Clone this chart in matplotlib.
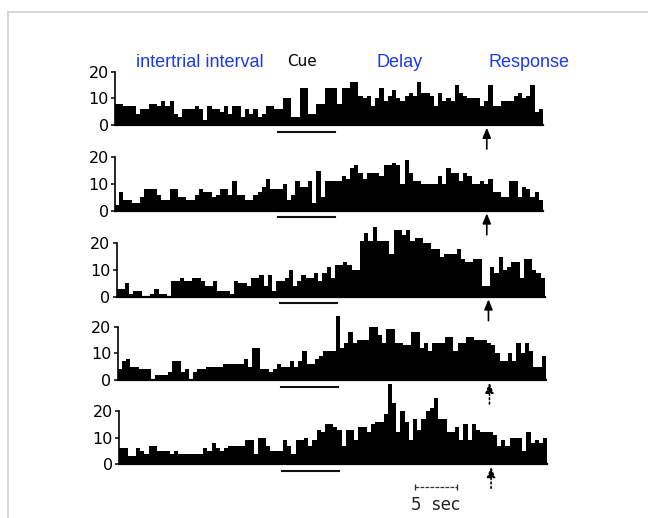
#!/usr/bin/env python3
"""Single-unit histograms across five trial blocks (intertrial / cue / delay / response)."""

import numpy as np
import matplotlib
matplotlib.use("Agg")
import matplotlib.pyplot as plt
from matplotlib.lines import Line2D

W, H = 648, 518
BIN = 0.5  # sec per bin

# spikes per bin (top to bottom)
block1 = [8, 8, 7, 7, 7, 4, 6, 6, 8, 8, 7, 9, 7, 9, 4, 3, 6, 6, 6, 7,
          6, 2, 7, 6, 6, 5, 7, 4, 7, 7, 3, 6, 4, 6, 3, 4, 7, 7, 6, 6,
          10, 10, 3, 3, 14, 14, 4, 4, 8, 8, 14, 14, 14, 8, 14, 14, 16, 16, 11, 10,
          11, 7, 10, 14, 9, 11, 13, 10, 9, 11, 12, 11, 16, 12, 12, 11, 7, 12, 9, 10,
          9, 15, 12, 11, 10, 10, 10, 7, 9, 15, 7, 7, 9, 9, 9, 11, 12, 10, 11, 15,
          5, 6]
block2 = [2, 7, 4, 4, 3, 3, 5, 8, 8, 8, 6, 4, 4, 8, 8, 5, 5, 4, 4, 6,
          8, 7, 7, 5, 6, 8, 8, 6, 11, 6, 6, 4, 4, 6, 7, 9, 12, 8, 8, 8,
          10, 4, 6, 11, 9, 9, 11, 3, 15, 5, 11, 11, 11, 11, 13, 12, 16, 17, 14, 12,
          14, 14, 14, 13, 17, 17, 18, 17, 10, 19, 14, 11, 11, 10, 10, 10, 10, 13, 10, 16,
          14, 14, 11, 14, 13, 10, 10, 11, 10, 12, 7, 7, 5, 5, 11, 11, 5, 9, 8, 5,
          7, 4]
block3 = [3, 3, 5, 1, 2, 2, 0, 0, 1, 3, 1, 1, 0, 6, 6, 7, 6, 6, 7, 7,
          6, 4, 4, 6, 2, 2, 2, 1, 6, 5, 5, 4, 7, 7, 8, 4, 8, 2, 6, 6,
          7, 10, 4, 6, 8, 7, 7, 9, 6, 9, 11, 7, 12, 12, 13, 12, 10, 10, 21, 24,
          21, 26, 21, 21, 21, 16, 25, 25, 23, 25, 21, 22, 22, 20, 20, 18, 18, 15, 16, 16,
          16, 18, 14, 13, 13, 14, 14, 4, 4, 11, 9, 15, 10, 11, 13, 13, 7, 14, 14, 10,
          9, 7]
block4 = [4, 7, 8, 5, 5, 4, 4, 4, 0, 2, 2, 2, 3, 7, 7, 3, 4, 0, 3, 4,
          4, 5, 5, 5, 5, 6, 6, 6, 6, 6, 8, 5, 12, 12, 4, 4, 3, 4, 6, 5,
          5, 7, 5, 7, 11, 6, 6, 8, 9, 11, 11, 11, 24, 12, 14, 18, 14, 15, 15, 15,
          20, 20, 17, 14, 19, 19, 14, 14, 13, 13, 18, 18, 12, 14, 11, 14, 14, 14, 16, 16,
          11, 14, 14, 16, 16, 15, 15, 15, 14, 13, 10, 7, 7, 10, 7, 14, 10, 14, 11, 5,
          5, 9]
block5 = [6, 6, 3, 3, 6, 5, 4, 7, 7, 5, 5, 5, 4, 5, 4, 4, 4, 4, 4, 4,
          6, 5, 8, 6, 5, 6, 7, 7, 7, 7, 9, 9, 4, 10, 10, 7, 5, 5, 5, 9,
          7, 4, 9, 9, 10, 7, 9, 13, 12, 15, 15, 14, 13, 7, 13, 13, 9, 14, 14, 12,
          15, 16, 16, 19, 30, 23, 12, 20, 16, 9, 17, 13, 17, 20, 21, 25, 17, 17, 12, 12,
          14, 9, 15, 9, 15, 13, 12, 12, 12, 11, 7, 9, 7, 10, 10, 10, 5, 12, 8, 9,
          8, 10]

BLOCKS = [block1, block2, block3, block4, block5]
YTICKS = [0, 10, 20]
CUE = (19.4, 26.2)       # sec, cue period underline
RESPONSE_T = 44.3        # sec, response arrow
SCALE_BAR = (35.2, 40.2)  # 5 sec

PHASES = ["intertrial interval", "Cue", "Delay", "Response"]
PHASE_X = [200, 302, 400, 529]
PHASE_COLORS = ["#1c3ae6", "black", "#1c3ae6", "#1c3ae6"]

# layout in pixels (scan is slightly skewed, so each panel has its own origin)
PANEL_LEFT = [115, 115, 116.7, 117.7, 119.3]
PANEL_ZERO = [125, 210.7, 296.7, 380, 464.3]
T_MAX = 51
PX_PER_SEC = 428 / T_MAX
PX_PER_UNIT = 53.3 / 20
Y_MAX = 31


def px(x, y):
    return x / W, 1 - y / H


def main():
    fig = plt.figure(figsize=(W / 100, H / 100), dpi=100)
    fig.patch.set_facecolor("white")

    # slide frame
    fig.add_artist(Line2D([8 / W, 8 / W], [0, 1 - 12 / H], color="#cfcfcf", lw=1.2))
    fig.add_artist(Line2D([8 / W, 1], [1 - 12 / H, 1 - 12 / H], color="#cfcfcf", lw=1.2))

    for i, vals in enumerate(BLOCKS):
        left, zero = PANEL_LEFT[i], PANEL_ZERO[i]
        x0, y0 = px(left, zero)
        ax = fig.add_axes([x0, y0, T_MAX * PX_PER_SEC / W, Y_MAX * PX_PER_UNIT / H])
        ax.patch.set_visible(False)

        edges = np.arange(len(vals) + 1) * BIN
        ax.stairs(vals, edges, fill=True, color="black", baseline=0)

        ax.set_xlim(0, T_MAX)
        ax.set_ylim(0, Y_MAX)
        for s in ("top", "right"):
            ax.spines[s].set_visible(False)
        ax.spines["left"].set_bounds(0, 20)
        ax.spines["left"].set_linewidth(1.2)
        ax.spines["bottom"].set_bounds(0, len(vals) * BIN)
        ax.spines["bottom"].set_linewidth(1.6)
        ax.set_xticks([])
        ax.set_yticks(YTICKS)
        ax.tick_params(axis="y", length=3, width=1.1, pad=1.5, labelsize=11.5)

        # cue underline
        ax.plot(CUE, [-2.5, -2.5], color="#111111", lw=1.5, clip_on=False)
        # response arrow
        ax.annotate("", xy=(RESPONSE_T, -1.0), xytext=(RESPONSE_T, -9.0),
                    arrowprops=dict(arrowstyle="-|>,head_length=0.6,head_width=0.25",
                                    color="black", lw=1.2, shrinkA=0, shrinkB=0,
                                    linestyle="-" if i < 3 else ":"),
                    annotation_clip=False)

        if i == len(BLOCKS) - 1:
            ax.plot(SCALE_BAR, [-8.5, -8.5], color="#333333", lw=0.9,
                    linestyle=(0, (3, 1)), clip_on=False)
            ax.plot(SCALE_BAR, [-8.5, -8.5], color="#333333", lw=0, marker="|",
                    markersize=4, clip_on=False)
            ax.text(np.mean(SCALE_BAR), -15.3, "5  sec", ha="center", va="center",
                    fontsize=12, color="#222222")

    for label, x, c in zip(PHASES, PHASE_X, PHASE_COLORS):
        if label == "Cue":
            fig.text(*px(x, 66), label, ha="center", va="baseline", fontsize=11, color=c)
        else:
            fig.text(*px(x, 67), label, ha="center", va="baseline", fontsize=13,
                     color=c, family="Liberation Sans")

    fig.savefig("out.png", dpi=100)


if __name__ == "__main__":
    main()
